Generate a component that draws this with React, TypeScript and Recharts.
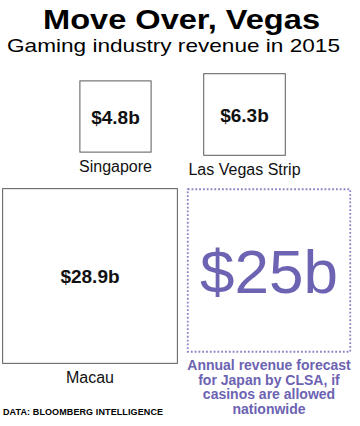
import React from 'react';
import { ScatterChart, Scatter, XAxis, YAxis, ZAxis } from 'recharts';

// ---- data ----
const markets = ['Singapore', 'Las Vegas Strip', 'Macau', 'Japan'];
const revenueBn = [4.8, 6.3, 28.9, 25];
const isForecast = [false, false, false, true];
const forecastNote = ['Annual revenue forecast', 'for Japan by CLSA, if', 'casinos are allowed', 'nationwide'];
const title = 'Move Over, Vegas';
const subtitle = 'Gaming industry revenue in 2015';
const source = 'DATA: BLOOMBERG INTELLIGENCE';

// ---- layout (square centres, in axis units = px) ----
const slotX = [115.5, 244.5, 90, 269];
const slotY = [116.5, 114.5, 276, 270.5];

// side of square = K * sqrt(value)  ->  symbol area = PI*K^2*value/4
const K = 32.5;
const Z_MAX = 30;
const Z_RANGE_MAX = (Math.PI * K * K * Z_MAX) / 4;

const W = 360;
const H = 426;
const FONT = '"Liberation Sans", Arial, Helvetica, sans-serif';
const PURPLE = '#6c63b2';
const DOT = '#8a82c4';

const rows = markets.map((m, i) => ({
  name: m,
  value: revenueBn[i],
  forecast: isForecast[i],
  x: slotX[i],
  y: slotY[i],
}));

const fmt = (v: number) => `$${v}b`;

const SquareShape = (props: any) => {
  const { x, y, width, height, cx, cy, payload } = props;
  if (payload.forecast) {
    return (
      <g>
        <rect x={x} y={y} width={width} height={height} fill="none" stroke={DOT}
          strokeWidth={1.8} strokeDasharray="1.8 2" />
        <text x={cx} y={cy + 22} textAnchor="middle" fontFamily={FONT} fontSize={62}
          fill={PURPLE}>{fmt(payload.value)}</text>
        {forecastNote.map((line, i) => (
          <text key={i} x={cx} y={y + height + 18 + i * 14.8} textAnchor="middle"
            fontFamily={FONT} fontSize={14} fontWeight="bold" fill={PURPLE}>{line}</text>
        ))}
      </g>
    );
  }
  return (
    <g>
      <rect x={x} y={y} width={width} height={height} fill="#fff" stroke="#5a5a5a" strokeWidth={1} />
      <text x={cx} y={cy + 7} textAnchor="middle" fontFamily={FONT} fontSize={19}
        fontWeight="bold" fill="#111">{fmt(payload.value)}</text>
      <text x={cx} y={y + height + 20} textAnchor="middle" fontFamily={FONT} fontSize={16}
        fill="#111">{payload.name}</text>
    </g>
  );
};

export default function App() {
  return (
    <div style={{ position: 'absolute', left: 0, top: 0, width: W, height: H, background: '#fff' }}>
      <ScatterChart width={W} height={H} margin={{ top: 0, right: 0, bottom: 0, left: 0 }}>
        <XAxis type="number" dataKey="x" domain={[0, W]} hide allowDataOverflow />
        <YAxis type="number" dataKey="y" domain={[0, H]} reversed hide allowDataOverflow />
        <ZAxis type="number" dataKey="value" domain={[0, Z_MAX]} range={[0, Z_RANGE_MAX]} />
        <Scatter data={rows} shape={SquareShape} isAnimationActive={false} />
        <text x={181.5} y={29} textAnchor="middle" fontFamily={FONT} fontSize={27}
          fontWeight="bold" fill="#000" textLength={277} lengthAdjust="spacingAndGlyphs">{title}</text>
        <text x={173.5} y={52} textAnchor="middle" fontFamily={FONT} fontSize={19}
          fill="#000" textLength={333} lengthAdjust="spacingAndGlyphs">{subtitle}</text>
        <text x={3} y={415} fontFamily={FONT} fontSize={9} fontWeight="bold" fill="#000"
          textLength={160} lengthAdjust="spacing">{source}</text>
      </ScatterChart>
    </div>
  );
}
